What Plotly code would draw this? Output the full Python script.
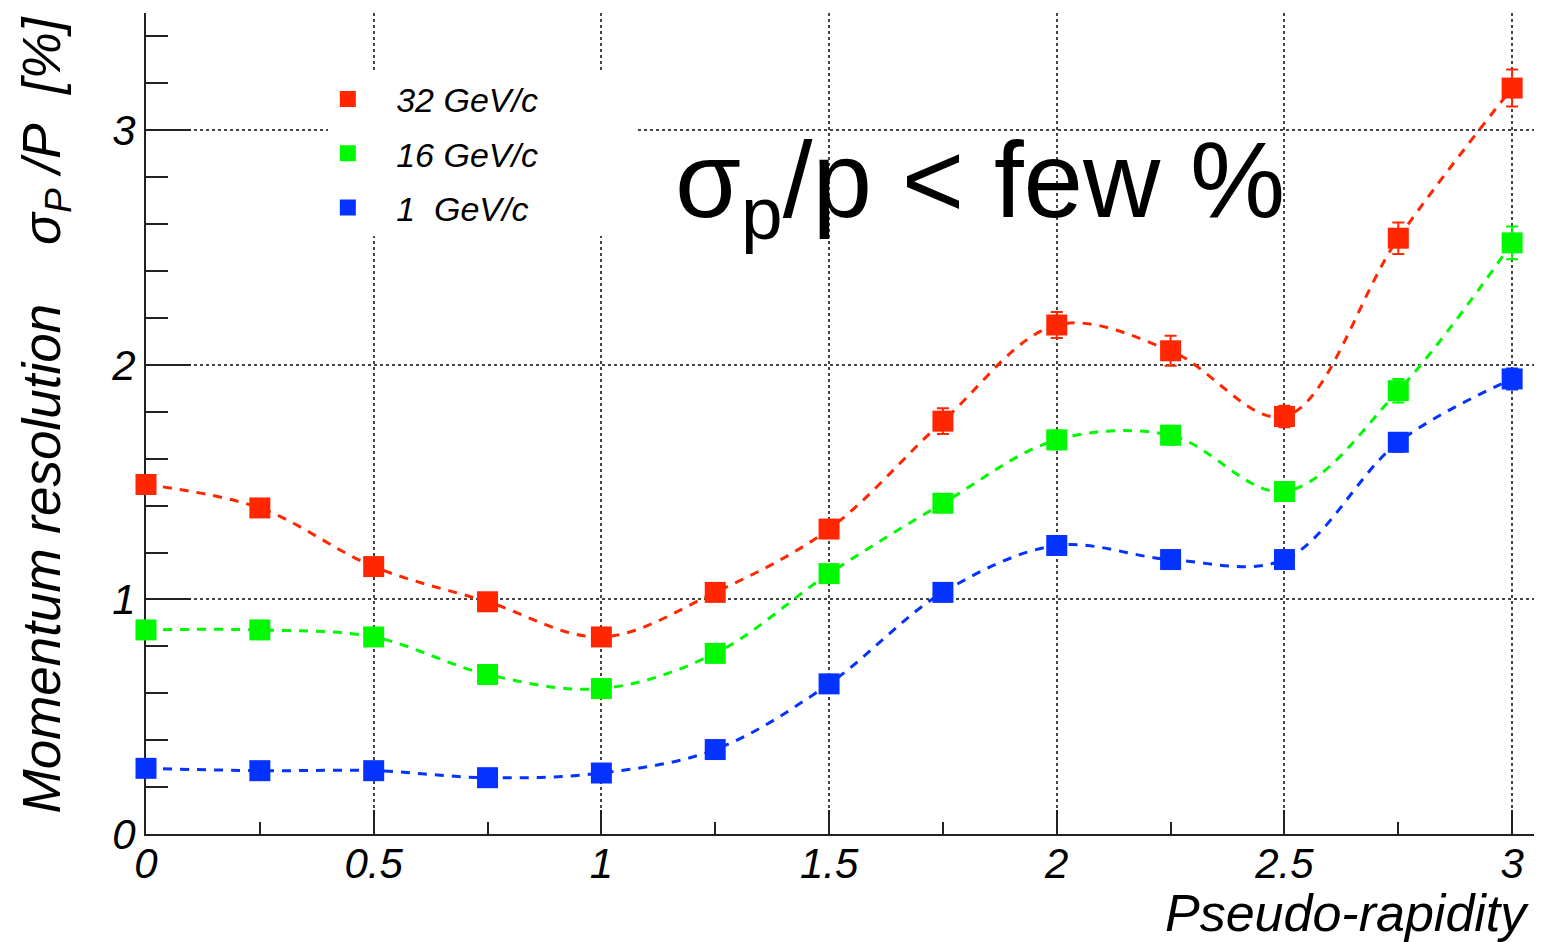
import plotly.graph_objects as go

# Pseudo-rapidity bins
eta = [0.0, 0.25, 0.5, 0.75, 1.0, 1.25, 1.5, 1.75, 2.0, 2.25, 2.5, 2.75, 3.0]

# Momentum resolution sigma_P/P [%] per track momentum
res_32 = [1.49, 1.39, 1.14, 0.99, 0.84, 1.03, 1.30, 1.76, 2.17, 2.06, 1.78, 2.54, 3.18]
res_16 = [0.87, 0.87, 0.84, 0.68, 0.62, 0.77, 1.11, 1.41, 1.68, 1.70, 1.46, 1.89, 2.52]
res_1 = [0.28, 0.27, 0.27, 0.24, 0.26, 0.36, 0.64, 1.03, 1.23, 1.17, 1.17, 1.67, 1.94]

# Statistical uncertainties
err_32 = [0.03, 0.03, 0.03, 0.025, 0.02, 0.025, 0.03, 0.055, 0.055, 0.064, 0.046, 0.067, 0.079]
err_16 = [0.02, 0.02, 0.02, 0.02, 0.02, 0.02, 0.03, 0.035, 0.04, 0.04, 0.035, 0.05, 0.07]
err_1 = [0.01, 0.01, 0.01, 0.01, 0.01, 0.01, 0.02, 0.03, 0.03, 0.03, 0.03, 0.04, 0.045]

labels = ["32 GeV/c", "16 GeV/c", "1\u00a0\u00a0GeV/c"]
colors = ["#ff2600", "#00f900", "#0433ff"]
series = [res_32, res_16, res_1]
errors = [err_32, err_16, err_1]

FONT = "Liberation Sans, Arial, Helvetica, sans-serif"
AXIS = "#222222"
PAD_L = "\u00a0" * 3
PAD_R = "\u00a0" * 10

fig = go.Figure()

# smooth dashed curves through the points
for name, col, ys in zip(labels, colors, series):
    fig.add_trace(go.Scatter(
        x=eta, y=ys, mode="lines", legendgroup=name, showlegend=False,
        line=dict(color=col, width=3, dash="9px,8px", shape="spline", smoothing=1.0),
        hoverinfo="skip", cliponaxis=False,
    ))

# square markers with error bars
for name, col, ys, es in zip(labels, colors, series, errors):
    fig.add_trace(go.Scatter(
        x=eta, y=ys, mode="markers", name=PAD_L + name + PAD_R, legendgroup=name,
        marker=dict(symbol="square", size=21, color=col, line=dict(width=0)),
        error_y=dict(type="data", array=es, visible=True, color=col, thickness=2, width=6),
        cliponaxis=False,
    ))

fig.update_layout(
    width=1555, height=942, autosize=False,
    margin=dict(l=146, r=21, t=13, b=108, pad=0),
    plot_bgcolor="white", paper_bgcolor="white",
    showlegend=True,
    legend=dict(
        x=0.131, y=0.93, xanchor="left", yanchor="top",
        bgcolor="white", borderwidth=0, tracegroupgap=7,
        font=dict(family=FONT, size=34, color="black", style="italic"),
        itemclick=False, itemdoubleclick=False,
    ),
    xaxis=dict(
        range=[0, 3.048], tick0=0, dtick=0.5,
        ticks="inside", ticklen=24, tickwidth=2, tickcolor=AXIS,
        showline=True, linecolor=AXIS, linewidth=2, mirror=False,
        showgrid=True, gridcolor="#444444", gridwidth=1.5, griddash="dot",
        zeroline=False, layer="below traces", ticklabelstandoff=-8,
        tickfont=dict(family=FONT, size=42, color="black", style="italic"),
        minor=dict(dtick=0.25, ticks="inside", ticklen=12, tickwidth=2, tickcolor=AXIS, showgrid=False),
    ),
    yaxis=dict(
        range=[0, 3.5], tick0=0, dtick=1,
        ticks="inside", ticklen=45, tickwidth=2, tickcolor=AXIS,
        showline=True, linecolor=AXIS, linewidth=2, mirror=False,
        showgrid=True, gridcolor="#444444", gridwidth=1.5, griddash="dot",
        zeroline=False, layer="below traces",
        tickfont=dict(family=FONT, size=42, color="black", style="italic"),
        minor=dict(dtick=0.2, ticks="inside", ticklen=22, tickwidth=2, tickcolor=AXIS, showgrid=False),
    ),
)

# axis titles
fig.add_annotation(
    text="Pseudo-rapidity", xref="paper", yref="paper", x=1, y=0,
    xanchor="right", yanchor="top", xshift=-3, yshift=-48, showarrow=False,
    font=dict(family=FONT, size=52, color="black", style="italic"),
)
fig.add_annotation(
    text="Momentum resolution\u00a0\u00a0\u00a0\u00a0\u03c3<sub>P</sub>\u00a0/P\u00a0\u00a0[%]",
    xref="paper", yref="paper", x=0, y=1, textangle=-90,
    xanchor="center", yanchor="top", xshift=-101, yshift=-2, showarrow=False,
    font=dict(family=FONT, size=53, color="black", style="italic"),
)

# headline statement
fig.add_annotation(
    text="\u03c3<sub>p</sub>/p &lt; few %", xref="paper", yref="paper",
    x=0.3800, y=0.788, xanchor="left", yanchor="middle", showarrow=False,
    font=dict(family=FONT, size=107, color="black"),
)

fig.write_html("out.html")
